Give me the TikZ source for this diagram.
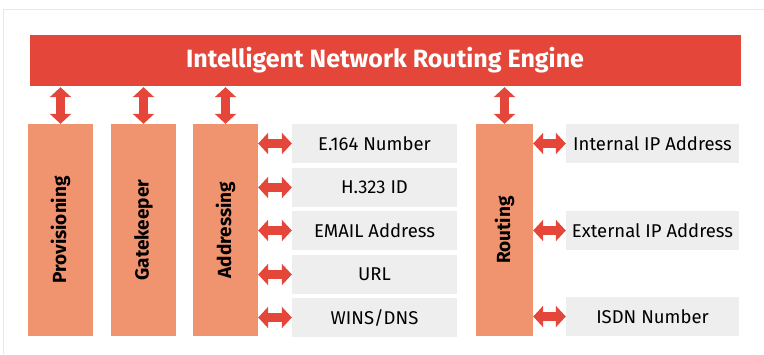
\documentclass[tikz,border=0pt]{standalone}
\usepackage{fontspec}
\setmainfont{Fira Sans}
\usetikzlibrary{arrows.meta}
\definecolor{engred}{HTML}{E4473A}
\definecolor{boxsalmon}{HTML}{F0936F}
\definecolor{itemgray}{HTML}{EEEEEE}
\definecolor{framegray}{HTML}{E8E8E8}
\begin{document}
\begin{tikzpicture}[x=1pt,y=-1pt]
		\tikzset{engine/.style = {fill=engred, text=white, font=\fontsize{25}{27}\selectfont\bfseries, minimum width=711pt, minimum height=51pt, inner sep=0pt},
			module/.style = {fill=boxsalmon, minimum width=65pt, minimum height=212pt, inner sep=0pt},
			modlabel/.style = {rotate=90, font=\fontsize{19}{21}\selectfont\bfseries},
			item/.style = {fill=itemgray, minimum width=165pt, minimum height=39pt, inner sep=0pt, font=\fontsize{18.5}{20}\selectfont},
			link/.style = {engred, line width=9pt, {Triangle[length=10pt,width=21pt]}-{Triangle[length=10pt,width=21pt]}}}

		\useasboundingbox (0,0) rectangle (764,354);
		\draw[framegray] (764,9) -- (3,9) -- (3,354);

		\node[engine] (E) at (385,60.5) {Intelligent Network Routing Engine};

		\node[module] (M_1) at (60.5,230) {};
		\node[module] (M_2) at (143.5,230) {};
		\node[module] (M_3) at (225.5,230) {};
		\node[module, minimum width=57pt] (M_4) at (504.5,230) {};
		\node[modlabel] at (M_1) {Provisioning};
		\node[modlabel] at (M_2) {Gatekeeper};
		\node[modlabel] at (M_3) {Addressing};
		\node[modlabel] at (M_4) {Routing};

		\node[item] (A_1) at (374.5,143.5) {E.164 Number};
		\node[item] (A_2) at (374.5,187.5) {H.323 ID};
		\node[item] (A_3) at (374.5,230.5) {EMAIL Address};
		\node[item] (A_4) at (374.5,274.5) {URL};
		\node[item] (A_5) at (374.5,317.5) {WINS/DNS};

		\node[item, minimum width=173pt] (R_1) at (652.5,143.5) {Internal IP Address};
		\node[item, minimum width=173pt] (R_2) at (652.5,230.5) {External IP Address};
		\node[item, minimum width=173pt] (R_3) at (652.5,316.5) {ISDN Number};

		\draw[link, shorten <=1pt] (E.south -| M_1.north) -- (M_1.north);
		\draw[link, shorten <=1pt] (E.south -| M_2.north) -- (M_2.north);
		\draw[link, shorten <=1pt] (E.south -| M_3.north) -- (M_3.north);
		\draw[link, shorten <=1pt] (E.south -| M_4.north) -- (M_4.north);

		\draw[link] (M_3.east |- A_1) -- (A_1.west);
		\draw[link] (M_3.east |- A_2) -- (A_2.west);
		\draw[link] (M_3.east |- A_3) -- (A_3.west);
		\draw[link] (M_3.east |- A_4) -- (A_4.west);
		\draw[link] (M_3.east |- A_5) -- (A_5.west);

		\draw[link] (M_4.east |- R_1) -- (R_1.west);
		\draw[link] (M_4.east |- R_2) -- (R_2.west);
		\draw[link] (M_4.east |- R_3) -- (R_3.west);

	\end{tikzpicture}
\end{document}
